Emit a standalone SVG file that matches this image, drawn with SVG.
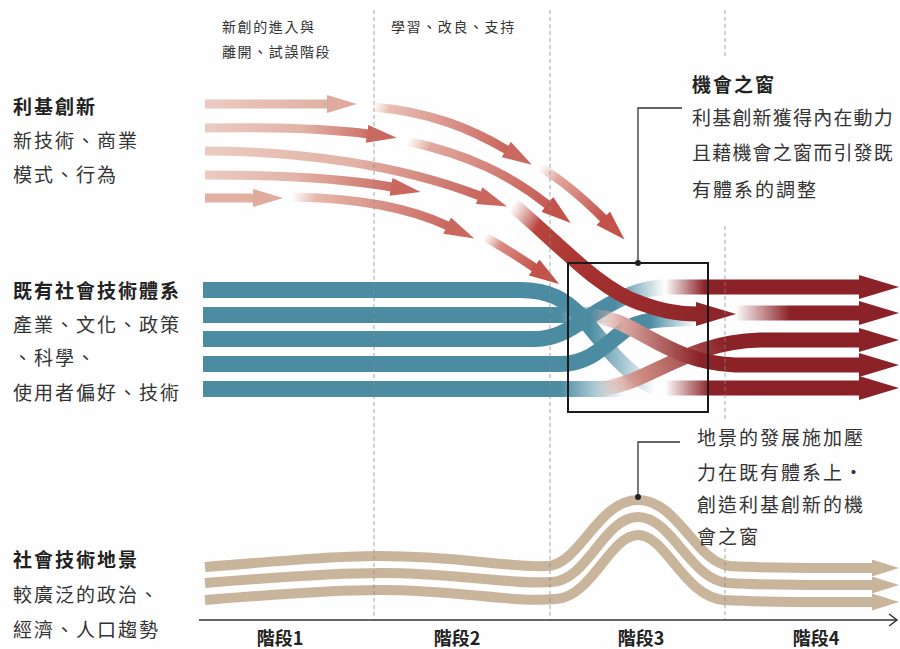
<svg xmlns="http://www.w3.org/2000/svg" width="900" height="649" viewBox="0 0 900 649">
<style>
text{font-family:"Noto Sans CJK TC","Noto Sans CJK SC",sans-serif;fill:#333}
.lbl{font-size:19px;letter-spacing:2px}
.fit{letter-spacing:1.2px}
.hd{font-weight:bold;fill:#222}
.top{font-size:14px;letter-spacing:1.6px}
.stage{font-size:18px;font-weight:bold;fill:#222;text-anchor:middle}
.dash{stroke:#8a8a8a;stroke-width:1;stroke-dasharray:4 3;opacity:.75}
.niche{fill:none;stroke-width:9}
.blue{fill:none;stroke-width:16}
.dr{fill:none;stroke-width:15}
.tan{fill:none;stroke:#c8b59b;stroke-width:10}
.lead{fill:none;stroke:#333;stroke-width:1.3}
</style>
<defs>
<marker id="mPL" markerUnits="userSpaceOnUse" markerWidth="30" markerHeight="18" refX="1" refY="9" orient="auto" viewBox="0 0 30 18"><path d="M0,0L30,9L0,18z" fill="#dfab9e"/></marker>
<marker id="mP" markerUnits="userSpaceOnUse" markerWidth="30" markerHeight="18" refX="1" refY="9" orient="auto" viewBox="0 0 30 18"><path d="M0,0L30,9L0,18z" fill="#ca6860"/></marker>
<marker id="mR" markerUnits="userSpaceOnUse" markerWidth="30" markerHeight="19" refX="1" refY="9.5" orient="auto" viewBox="0 0 30 19"><path d="M0,0L30,9.5L0,19z" fill="#c2524a"/></marker>
<marker id="mB" markerUnits="userSpaceOnUse" markerWidth="40" markerHeight="24" refX="1" refY="12" orient="auto" viewBox="0 0 40 24"><path d="M0,0L40,12L0,24z" fill="#8e2629"/></marker>
<marker id="mD" markerUnits="userSpaceOnUse" markerWidth="40" markerHeight="24" refX="1" refY="12" orient="auto" viewBox="0 0 40 24"><path d="M0,0L40,12L0,24z" fill="#8b2227"/></marker>
<marker id="mT" markerUnits="userSpaceOnUse" markerWidth="27" markerHeight="17" refX="1" refY="8.5" orient="auto" viewBox="0 0 27 17"><path d="M0,0L27,8.5L0,17z" fill="#c8b59b"/></marker>

<linearGradient id="gR1" gradientUnits="userSpaceOnUse" x1="205" y1="0" x2="357" y2="0"><stop offset="0" stop-color="#ebcbc1"/><stop offset="1" stop-color="#dea99c"/></linearGradient>
<linearGradient id="gR2" gradientUnits="userSpaceOnUse" x1="205" y1="0" x2="368" y2="0"><stop offset="0" stop-color="#ebcbc1"/><stop offset=".6" stop-color="#e2b2a6"/><stop offset="1" stop-color="#cd7268"/></linearGradient>
<linearGradient id="gR3" gradientUnits="userSpaceOnUse" x1="205" y1="0" x2="480" y2="0"><stop offset="0" stop-color="#ebcbc1"/><stop offset=".55" stop-color="#e2b2a6"/><stop offset="1" stop-color="#c9665e"/></linearGradient>
<linearGradient id="gR4" gradientUnits="userSpaceOnUse" x1="205" y1="0" x2="392" y2="0"><stop offset="0" stop-color="#ebcbc1"/><stop offset=".5" stop-color="#e2b2a6"/><stop offset="1" stop-color="#cc6d65"/></linearGradient>
<linearGradient id="gA2" gradientUnits="userSpaceOnUse" x1="373" y1="107" x2="507" y2="150"><stop offset="0" stop-color="#e8b8ac" stop-opacity="0"/><stop offset=".12" stop-color="#e6b5a9" stop-opacity=".9"/><stop offset="1" stop-color="#c9645c"/></linearGradient>
<linearGradient id="gA3" gradientUnits="userSpaceOnUse" x1="540" y1="167" x2="604" y2="219"><stop offset="0" stop-color="#e3a59a" stop-opacity="0"/><stop offset=".25" stop-color="#df9d92" stop-opacity=".9"/><stop offset="1" stop-color="#c2514a"/></linearGradient>
<linearGradient id="gB2" gradientUnits="userSpaceOnUse" x1="407" y1="141" x2="548" y2="205"><stop offset="0" stop-color="#e6b5a9" stop-opacity="0"/><stop offset=".15" stop-color="#e0a99e"/><stop offset="1" stop-color="#c65b53"/></linearGradient>
<linearGradient id="gE2" gradientUnits="userSpaceOnUse" x1="292" y1="197" x2="448" y2="226"><stop offset="0" stop-color="#e6b8ad" stop-opacity="0"/><stop offset=".15" stop-color="#e6b8ad"/><stop offset="1" stop-color="#ca6860"/></linearGradient>
<linearGradient id="gE3" gradientUnits="userSpaceOnUse" x1="485" y1="237" x2="535" y2="268"><stop offset="0" stop-color="#d98c82" stop-opacity="0"/><stop offset=".3" stop-color="#d98c82"/><stop offset="1" stop-color="#c4554d"/></linearGradient>
<linearGradient id="gC" gradientUnits="userSpaceOnUse" x1="513" y1="205" x2="697" y2="314"><stop offset="0" stop-color="#c25a52" stop-opacity="0"/><stop offset=".15" stop-color="#b8443d"/><stop offset=".5" stop-color="#a3302f"/><stop offset="1" stop-color="#8e2629"/></linearGradient>

<linearGradient id="gBl1" gradientUnits="userSpaceOnUse" x1="590" y1="0" x2="655" y2="0"><stop offset="0" stop-color="#4b8ca3"/><stop offset="1" stop-color="#4b8ca3" stop-opacity="0"/></linearGradient>
<linearGradient id="gBl2" gradientUnits="userSpaceOnUse" x1="560" y1="0" x2="612" y2="0"><stop offset="0" stop-color="#4b8ca3"/><stop offset="1" stop-color="#4b8ca3" stop-opacity="0"/></linearGradient>
<linearGradient id="gBl3" gradientUnits="userSpaceOnUse" x1="615" y1="0" x2="665" y2="0"><stop offset="0" stop-color="#4b8ca3"/><stop offset="1" stop-color="#4b8ca3" stop-opacity="0"/></linearGradient>
<linearGradient id="gBl4" gradientUnits="userSpaceOnUse" x1="650" y1="0" x2="695" y2="0"><stop offset="0" stop-color="#4b8ca3"/><stop offset="1" stop-color="#4b8ca3" stop-opacity="0"/></linearGradient>
<linearGradient id="gBl5" gradientUnits="userSpaceOnUse" x1="560" y1="0" x2="625" y2="0"><stop offset="0" stop-color="#4b8ca3"/><stop offset="1" stop-color="#4b8ca3" stop-opacity="0"/></linearGradient>

<linearGradient id="gRR1" gradientUnits="userSpaceOnUse" x1="665" y1="0" x2="705" y2="0"><stop offset="0" stop-color="#8b2227" stop-opacity="0"/><stop offset="1" stop-color="#8b2227"/></linearGradient>
<linearGradient id="gRR2" gradientUnits="userSpaceOnUse" x1="735" y1="0" x2="790" y2="0"><stop offset="0" stop-color="#8b2227" stop-opacity="0"/><stop offset="1" stop-color="#8b2227"/></linearGradient>
<linearGradient id="gRR3" gradientUnits="userSpaceOnUse" x1="595" y1="389" x2="725" y2="345"><stop offset="0" stop-color="#d7a49c" stop-opacity="0"/><stop offset=".3" stop-color="#d29389"/><stop offset="1" stop-color="#8b2227"/></linearGradient>
<linearGradient id="gRR4" gradientUnits="userSpaceOnUse" x1="590" y1="0" x2="700" y2="0"><stop offset="0" stop-color="#d9a8a0" stop-opacity="0"/><stop offset=".3" stop-color="#d9a8a0"/><stop offset="1" stop-color="#8b2227"/></linearGradient>
<linearGradient id="gRR5" gradientUnits="userSpaceOnUse" x1="665" y1="0" x2="710" y2="0"><stop offset="0" stop-color="#8b2227" stop-opacity="0"/><stop offset="1" stop-color="#8b2227"/></linearGradient>
</defs>

<rect width="900" height="649" fill="#fefefe"/>

<g id="landscape">
<path class="tan" marker-end="url(#mT)" d="M205,567 C290,560 340,556 380,556 C460,556 510,568 548,566 C580,564 598,500 638,500 C678,500 696,563 730,566 C780,569 830,568 873,568"/>
<path class="tan" marker-end="url(#mT)" d="M205,583 C290,576 340,573 380,573 C460,573 510,585 552,582 C588,580 604,517 638,517 C672,517 690,580 728,583 C780,586 830,585 873,585"/>
<path class="tan" marker-end="url(#mT)" d="M205,600 C290,593 340,590 380,590 C460,590 510,603 556,599 C592,597 610,535 638,535 C666,535 684,597 724,600 C780,603 830,602 873,602"/>
</g>

<g id="regime">
<path class="blue" stroke="url(#gBl2)" d="M203,315 L615,315"/>
<path class="blue" stroke="url(#gBl5)" d="M203,389 L628,389"/>
<path class="blue" stroke="url(#gBl4)" d="M203,364 L560,364 C590,364 605,345 625,330 C640,320 655,319 695,318"/>
<path class="blue" stroke="url(#gBl3)" d="M203,339 L535,339 C560,339 575,325 600,310 C620,298 640,288 668,287"/>
<path class="blue" stroke="url(#gBl1)" d="M203,290 L520,290 C550,290 565,300 580,315 C600,337 620,370 655,388"/>
</g>

<g id="new-regime">
<path class="dr" stroke="url(#gRR3)" marker-end="url(#mD)" d="M592,389 C645,389 680,342 760,340 L860,340"/>
<path class="dr" stroke="url(#gRR4)" marker-end="url(#mD)" d="M588,316 C635,316 662,362 735,365 L860,365"/>
<path class="dr" stroke="url(#gRR1)" marker-end="url(#mD)" d="M665,287 L860,287"/>
<path class="dr" stroke="url(#gRR2)" marker-end="url(#mD)" d="M735,313 L860,313"/>
<path class="dr" stroke="url(#gRR5)" marker-end="url(#mD)" d="M665,388 L860,388"/>
</g>

<g id="niche">
<path class="niche" stroke="url(#gR1)" marker-end="url(#mPL)" d="M205,104 L328,104"/>
<path class="niche" stroke="url(#gR2)" marker-end="url(#mP)" d="M205,128 C280,127 330,129 368,134"/>
<path class="niche" stroke="url(#gR3)" marker-end="url(#mP)" d="M205,151 C300,151 400,165 480,196"/>
<path class="niche" stroke="url(#gR4)" marker-end="url(#mP)" d="M205,175 C280,175 340,178 392,187"/>
<path class="niche" stroke="#e2b1a4" marker-end="url(#mPL)" d="M205,198 L254,198"/>
<path class="niche" stroke="url(#gA2)" marker-end="url(#mP)" d="M373,107 C430,112 470,128 507,150"/>
<path class="niche" stroke="url(#gB2)" marker-end="url(#mR)" d="M407,141 C470,155 510,175 548,205"/>
<path class="niche" stroke="url(#gE2)" marker-end="url(#mP)" d="M292,197 C360,198 410,208 448,226"/>
<path class="niche" stroke="url(#gA3)" marker-end="url(#mR)" d="M540,167 C565,182 585,200 604,219"/>
<path class="niche" stroke="url(#gE3)" marker-end="url(#mR)" d="M485,237 C500,245 520,258 535,268"/>
<path fill="none" stroke-width="15" stroke="url(#gC)" marker-end="url(#mB)" d="M513,205 C560,245 600,290 640,303 C660,310 675,314 697,314"/>
</g>

<g id="grid">
<line class="dash" x1="374" y1="10" x2="374" y2="620"/>
<line class="dash" x1="550" y1="10" x2="550" y2="620"/>
<line class="dash" x1="725" y1="10" x2="725" y2="56"/>
<line class="dash" x1="725" y1="226" x2="725" y2="420"/>
<line class="dash" x1="725" y1="548" x2="725" y2="620"/>
</g>

<g id="axis">
<line x1="199" y1="620" x2="897" y2="620" stroke="#333" stroke-width="1.5"/>
<polyline points="889,614 897,620 889,626" fill="none" stroke="#333" stroke-width="1.5"/>
<text class="stage" x="280" y="645">階段1</text>
<text class="stage" x="457" y="645">階段2</text>
<text class="stage" x="641" y="645">階段3</text>
<text class="stage" x="816" y="645">階段4</text>
</g>

<g id="window">
<rect x="568" y="263" width="140" height="149" fill="none" stroke="#1a1a1a" stroke-width="2"/>
</g>

<g id="connectors">
<polyline class="lead" points="682,108 638,108 638,263"/>
<circle cx="638" cy="263" r="3" fill="#222"/>
<polyline class="lead" points="680,442 638,442 638,497"/>
<circle cx="638" cy="497" r="3" fill="#222"/>
</g>

<g id="labels-top">
<text class="top" x="222" y="32">新創的進入與</text>
<text class="top" x="222" y="57">離開、試誤階段</text>
<text class="top" x="391" y="32">學習、改良、支持</text>
</g>

<g id="labels-left">
<text class="lbl hd" x="13" y="114">利基創新</text>
<text class="lbl" x="13" y="148">新技術、商業</text>
<text class="lbl" x="13" y="182">模式、行為</text>
<text class="lbl hd" x="13" y="298">既有社會技術體系</text>
<text class="lbl" x="13" y="332">產業、文化、政策</text>
<text class="lbl" x="13" y="365">、科學、</text>
<text class="lbl" x="13" y="400">使用者偏好、技術</text>
<text class="lbl hd" x="13" y="567">社會技術地景</text>
<text class="lbl" x="13" y="602">較廣泛的政治、</text>
<text class="lbl" x="13" y="637">經濟、人口趨勢</text>
</g>

<g id="labels-right">
<text class="lbl hd" x="692" y="92">機會之窗</text>
<text class="lbl fit" x="692" y="125">利基創新獲得內在動力</text>
<text class="lbl fit" x="692" y="160">且藉機會之窗而引發既</text>
<text class="lbl" x="692" y="197">有體系的調整</text>
<text class="lbl" x="697" y="445">地景的發展施加壓</text>
<text class="lbl" x="697" y="480">力在既有體系上·</text>
<text class="lbl" x="697" y="512">創造利基創新的機</text>
<text class="lbl" x="697" y="544">會之窗</text>
</g>
</svg>
